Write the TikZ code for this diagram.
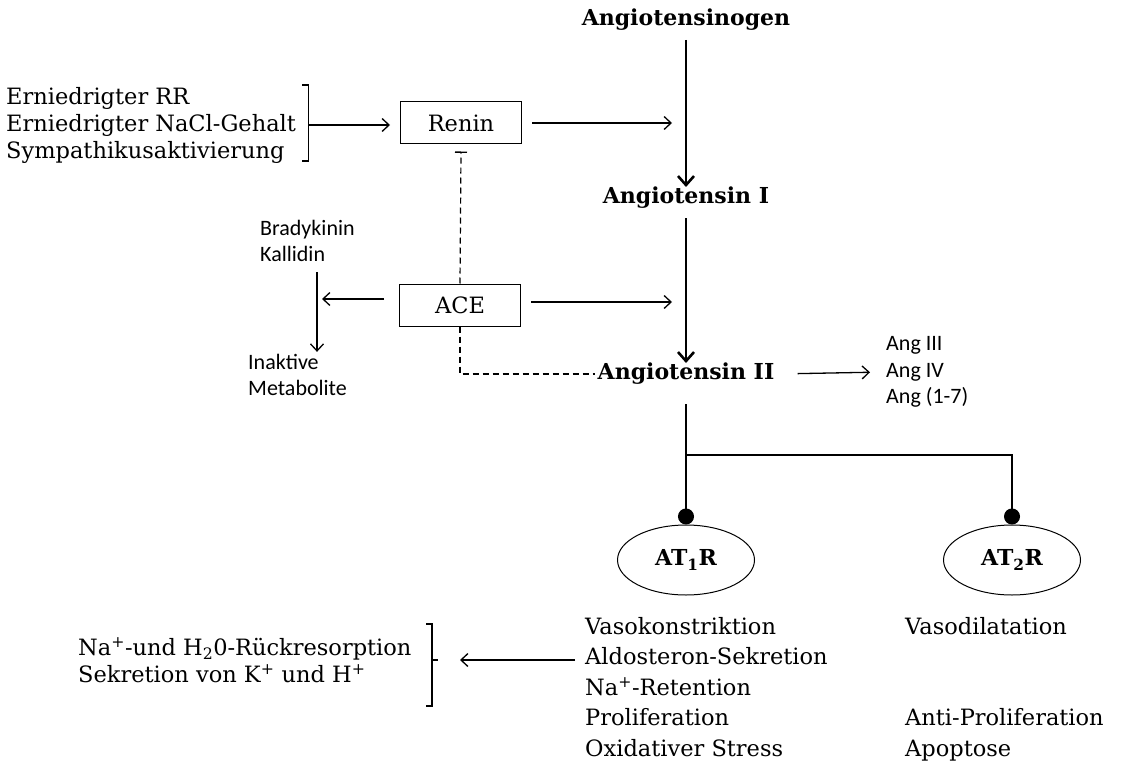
\documentclass[tikz,border=0pt]{standalone}
\usepackage{fontspec}
\setmainfont{DejaVu Serif}
\newfontfamily\calfont{Carlito}
\usetikzlibrary{arrows.meta,positioning,calc,shapes.geometric}

\begin{document}
\begin{tikzpicture}[x=1pt,y=-1pt,>={Straight Barb[length=7pt,width=13pt]},
    txt/.style={font=\fontsize{22.5}{27}\selectfont,align=left,inner sep=2pt},
    stage/.style={font=\bfseries\fontsize{22}{26}\selectfont,inner sep=3pt},
    enzyme/.style={draw,line width=1pt,minimum width=121pt,minimum height=42pt,font=\fontsize{22.5}{27}\selectfont},
    small/.style={font=\calfont\fontsize{22}{26.5}\selectfont,align=left,inner sep=2pt},
    receptor/.style={draw,ellipse,line width=1pt,minimum width=137pt,minimum height=70pt,inner sep=0pt,font=\bfseries\fontsize{22}{26}\selectfont},
    conv/.style={-{Straight Barb[length=9pt,width=16pt]},line width=2.6pt},
    link/.style={line width=1.3pt},
    inhib/.style={line width=1.2pt,dash pattern=on 6pt off 4pt}]
\useasboundingbox (0,0) rectangle (1132,765);

% cascade
\node[stage] (agt) at (686,20) {Angiotensinogen};
\node[stage] (ang1) at (686,198) {Angiotensin I};
\node[stage] (ang2) at (686,374) {Angiotensin II};
\draw[conv,shorten <=6pt,shorten >=-3pt] (agt) -- (ang1);
\draw[conv,shorten <=6pt,shorten >=-3pt] (ang1) -- (ang2);

% renin
\node[enzyme] (renin) at (461,123) {Renin};
\node[txt,anchor=west] (trig) at (4,125) {Erniedrigter RR\\Erniedrigter NaCl-Gehalt\\Sympathikusaktivierung};
\coordinate (brk) at ($(trig.east)+(10,0)$);
\draw[link] ($(brk)+(-6,-40)$) -- ($(brk)+(0,-40)$) -- ($(brk)+(0,36)$) -- ($(brk)+(-6,36)$);
\draw[link] (brk) -- ++(6,0);
\draw[link,->,shorten <=6pt,shorten >=10pt] (brk) -- (renin.west |- brk);
\coordinate (rj) at (672,123);
\draw[link,->,shorten <=10pt] (renin.east) -- (rj);

% ACE
\node[enzyme] (ace) at (460,305) {ACE};
\coordinate (aj) at (672,302);
\draw[link,->,shorten <=10pt] (ace.east |- aj) -- (aj);
\draw[inhib,-{Bar[width=12pt,line width=1.3pt]}] (ace.north) -- ([yshift=-7pt]renin.south);
\draw[inhib] (ace.south) |- (ang2.west);

% kinins
\node[small,anchor=west] (brady) at (258,241) {Bradykinin\\Kallidin};
\node[small,anchor=west] (inakt) at (246,375) {Inaktive\\Metabolite};
\coordinate (kin) at (317,299);
\draw[link,->,shorten <=8pt] (kin |- brady.south) -- (kin |- inakt.north);
\draw[link,->,shorten <=15pt,shorten >=5pt] (ace.west |- kin) -- (kin);

% metabolites
\node[small,anchor=west] (angx) at (884,372) {Ang III\\Ang IV\\Ang (1-7)};
\draw[link,->,shorten <=20pt,shorten >=14pt] (ang2.east) -- (angx.west);

% receptors
\node[receptor] (at1) at (686,560) {AT\textsubscript{1}R};
\node[receptor] (at2) at (1012,560) {AT\textsubscript{2}R};
\draw[line width=2.6pt,-{Circle[length=16pt,width=16pt]},shorten <=16pt] (ang2.south) -- (at1.north);
\coordinate (br) at (686,455);
\draw[link,-{Circle[length=16pt,width=16pt]}] (br) -| (at2.north);

% effects
\node[txt,anchor=north west,font=\fontsize{22.5}{30.5}\selectfont] (eff1) at (583,615) {Vasokonstriktion\\Aldosteron-Sekretion\\Na\textsuperscript{+}-Retention\\Proliferation\\Oxidativer Stress};
\node[txt,anchor=north west,font=\fontsize{22.5}{30.5}\selectfont] (eff2) at (903,615) {Vasodilatation\\\mbox{}\\\mbox{}\\Anti-Proliferation\\Apoptose};
\node[txt,anchor=west] (renal) at (76,660) {Na\textsuperscript{+}-und H\textsubscript{2}0-Rückresorption\\Sekretion von K\textsuperscript{+} und H\textsuperscript{+}};
\coordinate (rb) at (432,660);
\draw[link] ($(rb)+(-6,-36)$) -- ($(rb)+(0,-36)$) -- ($(rb)+(0,46)$) -- ($(rb)+(-6,46)$);
\draw[link] (rb) -- ++(6,0);
\draw[link,->,shorten <=8pt,shorten >=28pt] (eff1.west |- rb) -- (rb);
\end{tikzpicture}
\end{document}
